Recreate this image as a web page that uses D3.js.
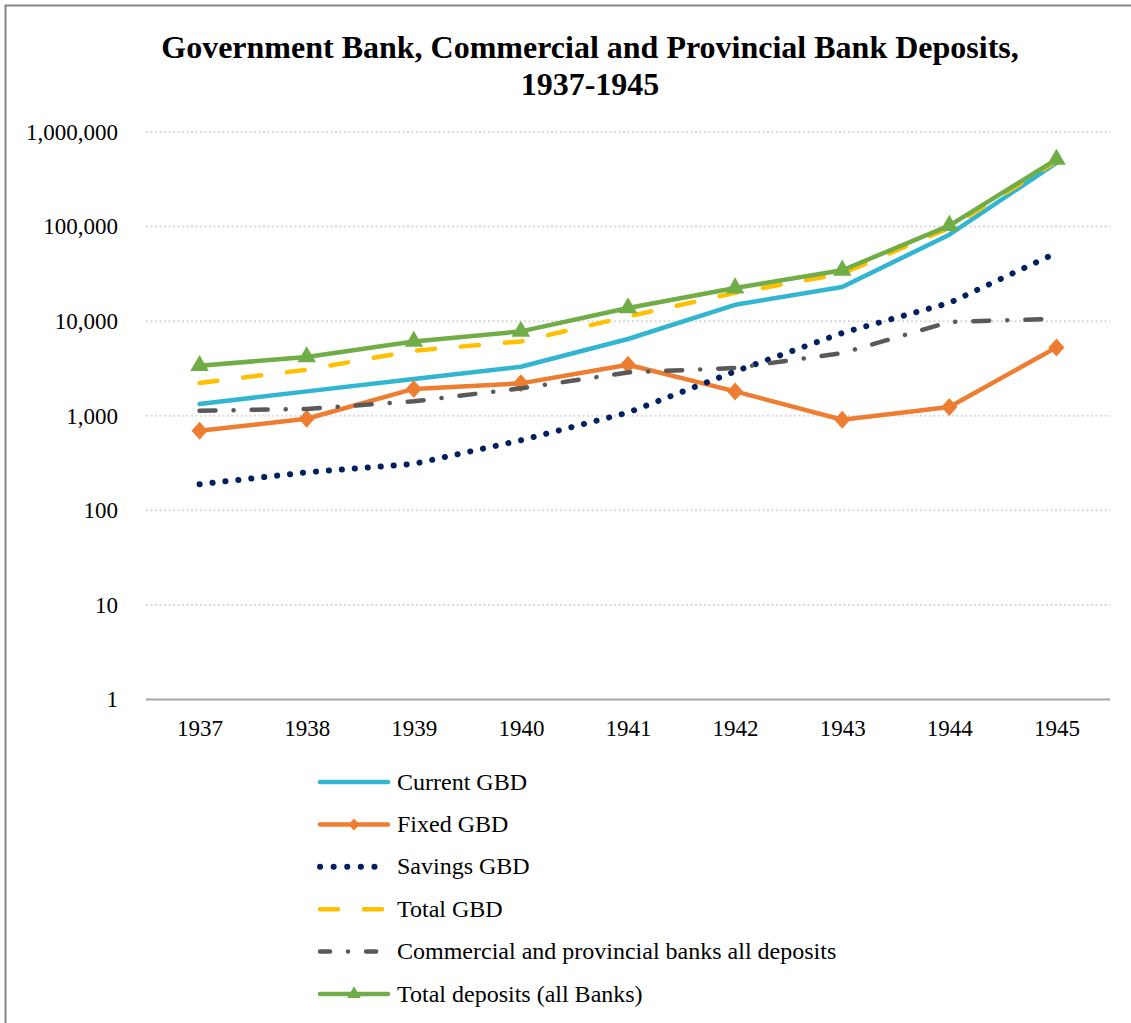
<!DOCTYPE html>
<html lang="en">
<head>
<meta charset="utf-8">
<title>Bank Deposits 1937-1945</title>
<script src="https://cdn.jsdelivr.net/npm/d3@7"></script>
<style>
  body { margin: 0; background: #fff; }
  text { font-family: "Liberation Serif", "Times New Roman", serif; fill: #000; }
</style>
</head>
<body>
<script>
var w = 1131;
var h = 1023;

var years = ["1937", "1938", "1939", "1940", "1941", "1942", "1943", "1944", "1945"];
var currentGBD  = [1330, 1810, 2450, 3300, 6480, 14900, 23000, 82000, 472000];
var fixedGBD    = [694, 929, 1920, 2200, 3460, 1810, 907, 1240, 5280];
var savingsGBD  = [189, 252, 310, 550, 1080, 2940, 7500, 15600, 52700];
var totalGBD    = [2220, 3070, 4870, 6110, 11200, 19900, 31800, 96800, 490000];
var commercial  = [1130, 1180, 1420, 1950, 2870, 3200, 4600, 9800, 10600];
var totalAll    = [3380, 4180, 6110, 7800, 13800, 22400, 34500, 102500, 512000];
var yTicks = [1, 10, 100, 1000, 10000, 100000, 1000000];

var series = [
  { name: "Current GBD", values: currentGBD, color: "#31b5d1", dash: null, marker: null },
  { name: "Fixed GBD", values: fixedGBD, color: "#ed7d31", dash: null, marker: "diamond" },
  { name: "Savings GBD", values: savingsGBD, color: "#002060", dash: "0.1,12.9", marker: null },
  { name: "Total GBD", values: totalGBD, color: "#ffc000", dash: "18,26", marker: null },
  { name: "Commercial and provincial banks all deposits", values: commercial, color: "#595959", dash: "16,18,0.1,18", marker: null },
  { name: "Total deposits (all Banks)", values: totalAll, color: "#70ad47", dash: null, marker: "triangle" }
];

var plotLeft = 146, plotRight = 1110, plotTop = 132, plotBottom = 699.5;

var xScale = d3.scalePoint()
  .domain(years)
  .range([plotLeft, plotRight])
  .padding(0.5);

var yScale = d3.scaleLog()
  .domain([1, 1000000])
  .range([plotBottom, plotTop]);

var svg = d3.select("body").append("svg")
  .attr("width", w)
  .attr("height", h);

svg.append("rect")
  .attr("x", 5.5).attr("y", 5.5)
  .attr("width", 1200).attr("height", 1100)
  .attr("fill", "none")
  .attr("stroke", "#868686")
  .attr("stroke-width", 2);

// title
svg.append("text")
  .attr("x", 590).attr("y", 58)
  .attr("text-anchor", "middle")
  .attr("font-size", "32px")
  .attr("font-weight", "bold")
  .text("Government Bank, Commercial and Provincial Bank Deposits,");
svg.append("text")
  .attr("x", 590).attr("y", 95)
  .attr("text-anchor", "middle")
  .attr("font-size", "32px")
  .attr("font-weight", "bold")
  .text("1937-1945");

// grid
svg.selectAll("line.grid")
  .data(yTicks.filter(function(d) { return d > 1; }))
  .enter().append("line")
  .attr("class", "grid")
  .attr("x1", plotLeft).attr("x2", plotRight)
  .attr("y1", function(d) { return yScale(d); })
  .attr("y2", function(d) { return yScale(d); })
  .attr("stroke", "#d9d9d9")
  .attr("stroke-width", 2)
  .attr("stroke-dasharray", "2,2.5");

// y axis labels
var yAxis = d3.axisLeft(yScale)
  .tickValues(yTicks)
  .tickFormat(d3.format(","))
  .tickSize(0)
  .tickPadding(0);
var gy = svg.append("g")
  .attr("transform", "translate(118,0)")
  .call(yAxis);
gy.select(".domain").remove();
gy.selectAll("text")
  .attr("font-size", "23px")
  .attr("font-family", "Liberation Serif")
  .attr("fill", "#000")
  .attr("dy", "0.32em");

// x axis
var xAxis = d3.axisBottom(xScale).tickSize(0).tickPadding(20);
var gx = svg.append("g")
  .attr("transform", "translate(0," + plotBottom + ")")
  .call(xAxis);
gx.select(".domain")
  .attr("stroke", "#a6a6a6")
  .attr("stroke-width", 2)
  .attr("d", "M" + plotLeft + ",0H" + plotRight);
gx.selectAll("text")
  .attr("font-size", "23px")
  .attr("font-family", "Liberation Serif")
  .attr("fill", "#000");

var line = d3.line()
  .x(function(d, i) { return xScale(years[i]); })
  .y(function(d) { return yScale(d); });

var triangle = d3.symbol().type(d3.symbolTriangle).size(150);
var diamond = "M0,-9L8,0L0,9L-8,0Z";

series.forEach(function(s) {
  svg.append("path")
    .datum(s.values)
    .attr("d", line)
    .attr("fill", "none")
    .attr("stroke", s.color)
    .attr("stroke-width", s.name === "Savings GBD" ? 6 : 4.5)
    .attr("stroke-linecap", "round")
    .attr("stroke-linejoin", "round")
    .attr("stroke-dasharray", s.dash);

  if (s.marker) {
    svg.selectAll(null)
      .data(s.values)
      .enter().append("path")
      .attr("transform", function(d, i) {
        return "translate(" + xScale(years[i]) + "," + yScale(d) + ")";
      })
      .attr("d", s.marker === "triangle" ? triangle : diamond)
      .attr("fill", s.color);
  }
});

// legend
var legend = svg.selectAll("g.legend")
  .data(series)
  .enter().append("g")
  .attr("class", "legend")
  .attr("transform", function(d, i) { return "translate(318," + (782 + i * 42.4) + ")"; });

legend.append("line")
  .attr("x1", 2).attr("x2", 70)
  .attr("y1", 0).attr("y2", 0)
  .attr("stroke", function(d) { return d.color; })
  .attr("stroke-width", function(d) { return d.name === "Savings GBD" ? 6 : 4.5; })
  .attr("stroke-linecap", "round")
  .attr("stroke-dasharray", function(d) {
    if (d.name === "Savings GBD") return "0.1,13.5";
    if (d.name === "Total GBD") return "18,26";
    if (d.name === "Commercial and provincial banks all deposits") return "10,18,0.1,18";
    return null;
  });

legend.filter(function(d) { return d.marker; })
  .append("path")
  .attr("transform", "translate(36,0)")
  .attr("d", function(d) { return d.marker === "triangle" ? d3.symbol().type(d3.symbolTriangle).size(80)() : "M0,-6L5.5,0L0,6L-5.5,0Z"; })
  .attr("fill", function(d) { return d.color; });

legend.append("text")
  .attr("x", 79)
  .attr("y", 0)
  .attr("dy", "0.32em")
  .attr("font-size", "24px")
  .text(function(d) { return d.name; });
</script>
</body>
</html>
